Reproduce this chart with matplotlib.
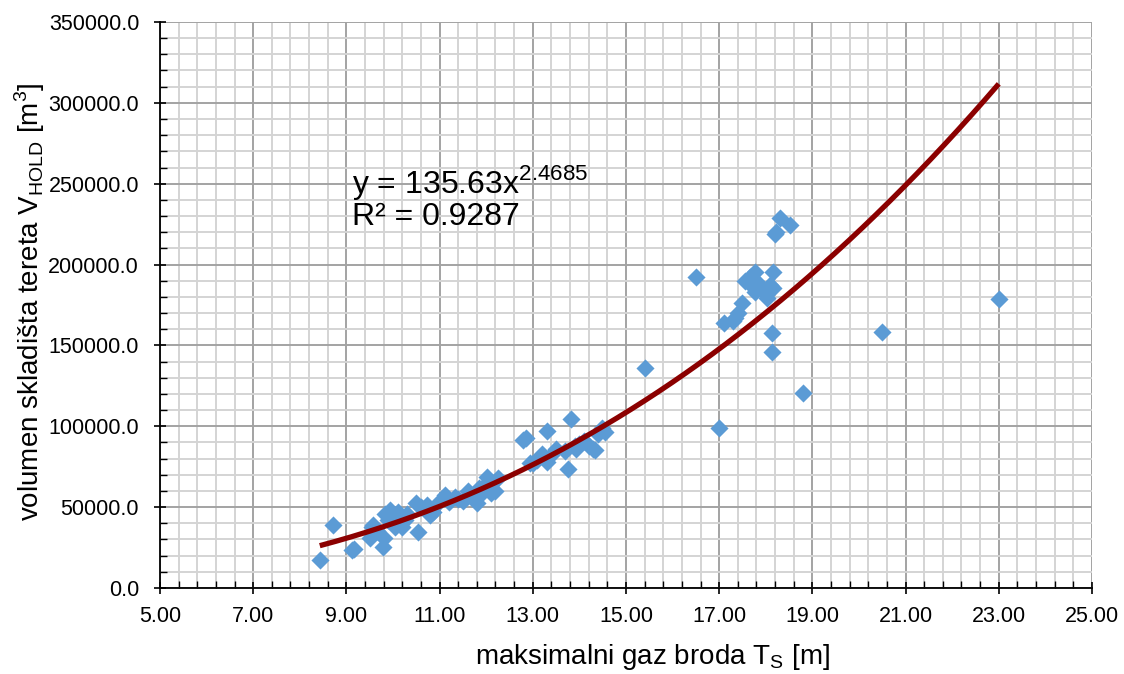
import matplotlib
matplotlib.use("Agg")
import matplotlib.pyplot as plt
import numpy as np
from matplotlib.ticker import FixedLocator, FormatStrFormatter

plt.rcParams['font.family'] = ['Liberation Sans', 'DejaVu Sans']
plt.rcParams['mathtext.fontset'] = 'custom'
plt.rcParams['mathtext.rm'] = 'Liberation Sans'

# draught T_S [m]
draught = [8.43, 8.71, 9.12, 9.16, 9.50, 9.55, 9.57, 9.65, 9.79, 9.80, 9.82, 9.90,
           9.94, 10.00, 10.05, 10.10, 10.20, 10.25, 10.30, 10.50, 10.53, 10.60, 10.72,
           10.80, 10.86, 11.00, 11.12, 11.20, 11.33, 11.40, 11.50, 11.60, 11.70, 11.80,
           11.85, 11.90, 12.00, 12.02, 12.10, 12.20, 12.25, 12.79, 12.85, 12.94, 13.00,
           13.10, 13.20, 13.30, 13.30, 13.40, 13.50, 13.70, 13.76, 13.82, 13.90, 13.92,
           14.00, 14.10, 14.20, 14.30, 14.33, 14.40, 14.48, 14.55, 15.40, 16.50, 17.00,
           17.10, 17.30, 17.34, 17.40, 17.50, 17.55, 17.66, 17.73, 17.77, 17.77, 17.85,
           17.90, 18.03, 18.09, 18.15, 18.13, 18.13, 18.15, 18.20, 18.22, 18.30, 18.52,
           18.80, 20.50, 23.00]
# hold volume V_HOLD [m3]
volume = [17300, 39000, 23500, 24000, 31000, 38000, 39000, 35000, 25400, 31000, 46000, 42000,
          48200, 45000, 38000, 47000, 37700, 42000, 46000, 52600, 34600, 50000, 51300,
          45100, 47000, 54000, 57500, 53000, 56300, 55000, 54000, 60000, 57000, 52600,
          62000, 58000, 64000, 68600, 59000, 60000, 68000, 91500, 93000, 77300, 77000,
          79000, 83000, 97100, 78000, 82000, 86000, 85000, 73600, 104500, 88000, 86000,
          89000, 91000, 88000, 86000, 85300, 95000, 98900, 96500, 136000, 192300, 99000,
          164000, 165000, 167000, 170000, 176200, 190000, 192300, 186000, 183000, 195400, 188000,
          185000, 179300, 187400, 195400, 157700, 146000, 185500, 218900, 220000, 228800, 224500,
          120600, 158000, 179000]

# power trendline as displayed on the chart
trend_a = 135.63
trend_b = 2.4685
trend_range = [8.43, 23.0]
eq_text = ['y = 135.63x$^{\\mathregular{2.4685}}$', 'R² = 0.9287']

x_major = np.arange(5, 25.01, 2)
x_minor = np.arange(5, 25.01, 0.4)
y_major = np.arange(0, 350001, 50000)
y_minor = np.arange(0, 350001, 10000)

fig = plt.figure(figsize=(11.24, 6.74), dpi=100)
ax = fig.add_axes([0.1423, 0.1276, 0.9715 - 0.1423, 0.9674 - 0.1276])

ax.set_xlim(5, 25)
ax.set_ylim(0, 350000)
ax.xaxis.set_major_locator(FixedLocator(x_major))
ax.xaxis.set_minor_locator(FixedLocator(x_minor))
ax.yaxis.set_major_locator(FixedLocator(y_major))
ax.yaxis.set_minor_locator(FixedLocator(y_minor))
ax.xaxis.set_major_formatter(FormatStrFormatter('%.2f'))
ax.yaxis.set_major_formatter(FormatStrFormatter('%.1f'))

ax.grid(which='minor', color='#D4D4D4', lw=1.4, zorder=0)
ax.grid(which='major', color='#A3A3A3', lw=1.4, zorder=0)
ax.set_axisbelow(True)

for s in ['top', 'right']:
    ax.spines[s].set_visible(False)
for s in ['left', 'bottom']:
    ax.spines[s].set_color('black')
    ax.spines[s].set_linewidth(1.3)

ax.tick_params(which='major', direction='inout', length=8, width=1.2,
               labelsize=15.5, colors='black')
ax.tick_params(which='minor', direction='in', length=5, width=1.0)
ax.tick_params(axis='y', which='major', pad=11)
ax.tick_params(axis='x', which='major', pad=9)

ax.scatter(draught, volume, marker='D', s=85, color='#5B9BD5', linewidths=0, zorder=3)

xs = np.linspace(trend_range[0], trend_range[1], 300)
ax.plot(xs, trend_a * xs ** trend_b, color='#8B0000', lw=3.8, zorder=4, solid_capstyle='butt')

ax.text(9.12, 244500, eq_text[0], fontsize=23, va='baseline', ha='left', zorder=5)
ax.text(9.12, 224500, eq_text[1], fontsize=23, va='baseline', ha='left', zorder=5)

ax.set_xlabel('maksimalni gaz broda T$_\\mathregular{S}$ [m]', fontsize=20)
ax.set_ylabel('volumen skladišta tereta V$_\\mathregular{HOLD}$ [m$^\\mathregular{3}$]',
              fontsize=20)
ax.xaxis.set_label_coords((652 - 160) / 932, -(657 - 588) / 566 - 0.0)
ax.yaxis.set_label_coords(-(160 - 30) / 932, 0.505)
ax.xaxis.label.set_verticalalignment('center')
ax.yaxis.label.set_verticalalignment('center')

fig.savefig('out.png', dpi=100)
